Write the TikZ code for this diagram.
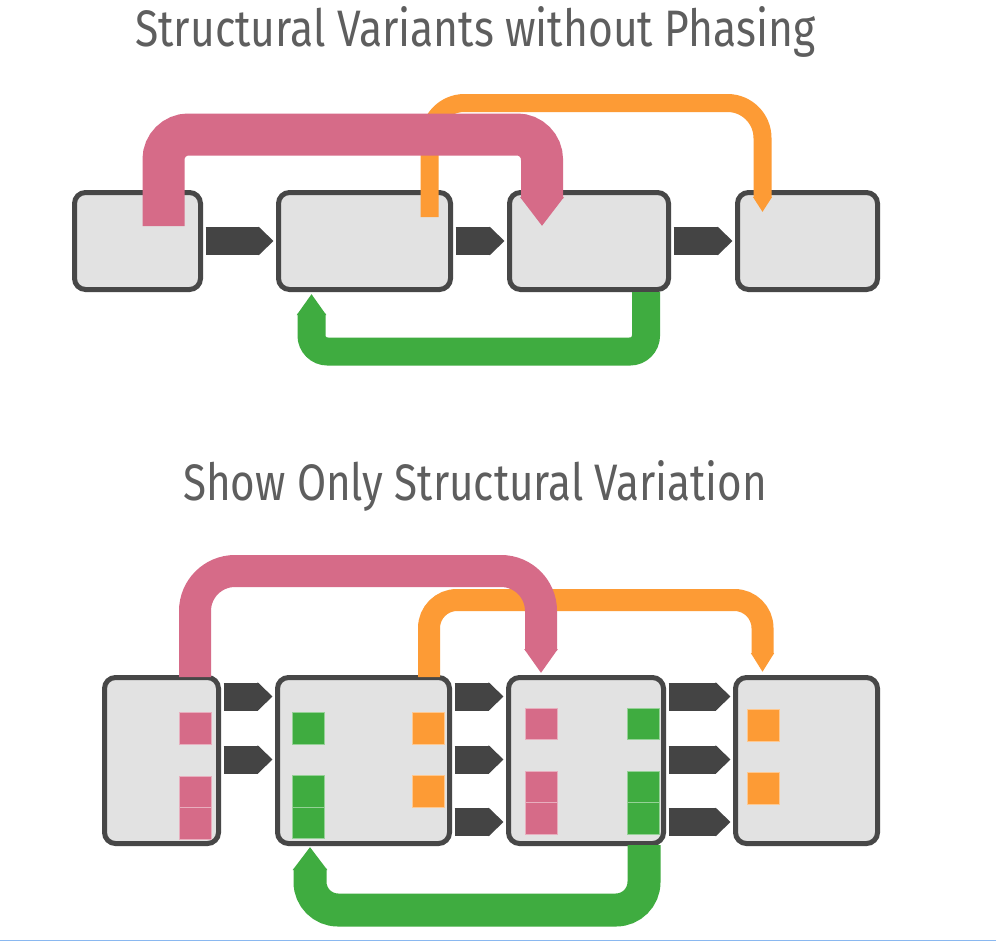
\documentclass[tikz,border=0pt]{standalone}
\usepackage{fontspec}
\newfontfamily\titlefont{Fira Sans}
\usetikzlibrary{arrows.meta,calc}
\definecolor{boxfill}{HTML}{E2E2E2}
\definecolor{boxedge}{HTML}{474747}
\definecolor{chev}{HTML}{444444}
\definecolor{svpink}{HTML}{D66B88}
\definecolor{svorange}{HTML}{FD9B35}
\definecolor{svgreen}{HTML}{3FAC40}
\definecolor{titlegray}{HTML}{5E5E5E}
\definecolor{rulecol}{HTML}{8AB8F0}
\begin{document}
\begin{tikzpicture}[x=1pt,y=-1pt,
  box/.style={draw=boxedge, fill=boxfill, line width=5pt, rounded corners=11pt, inner sep=0pt},
  flow/.style={draw=chev, line width=28pt, -{Triangle[width=0pt 1, length=15pt]}, shorten <=2.5pt, shorten >=2.5pt},
  conn/.style n args={4}{draw=#1, line width=#2, rounded corners=#3, -{Triangle[width=0pt 1, length=#4]}},
  sq/.style={fill=#1, draw=#1!55!white, line width=0.8pt},
  title/.style={anchor=base west, inner sep=0pt, text=titlegray}]
\useasboundingbox (0,0) rectangle (996,942);
\fill[white] (0,0) rectangle (996,942);

% titles
\node[title] (t1) at (135,47) {\resizebox{680pt}{40pt}{\titlefont Structural Variants without Phasing}};
\node[title] (t2) at (183,500) {\resizebox{584pt}{40pt}{\titlefont Show Only Structural Variation}};

% top boxes
\node[box, minimum width=126pt, minimum height=97pt] (b1) at (137.5,241) {};
\node[box, minimum width=172pt, minimum height=97pt] (b2) at (364.5,241) {};
\node[box, minimum width=159pt, minimum height=97pt] (b3) at (589,241) {};
\node[box, minimum width=140pt, minimum height=97pt] (b4) at (807.5,241) {};

\draw[flow] (b1.east) -- (b2.west);
\draw[flow] (b2.east) -- (b3.west);
\draw[flow] (b3.east) -- (b4.west);

% top connectors
\coordinate (to1) at (429.5,217);
\coordinate (to2) at (762.5,212);
\draw[conn={svorange}{18pt}{35pt}{15pt}] (to1) -- (429.5,103) -- (762.5,103) -- (to2);
\coordinate (tp1) at (163.5,226);
\coordinate (tp2) at (542,226);
\draw[conn={svpink}{42pt}{25pt}{29pt}] (tp1) -- (163.5,134.5) -- (542,134.5) -- (tp2);
\coordinate (tg1) at (646,292);
\coordinate (tg2) at (311.5,294);
\draw[conn={svgreen}{28pt}{16pt}{21pt}] (tg1) -- (646,351.5) -- (311.5,351.5) -- (tg2);

% bottom boxes
\node[box, minimum width=114pt, minimum height=166pt] (c1) at (161.5,760.5) {};
\node[box, minimum width=172pt, minimum height=166pt] (c2) at (363.5,760.5) {};
\node[box, minimum width=155pt, minimum height=166pt] (c3) at (586,760.5) {};
\node[box, minimum width=142pt, minimum height=166pt] (c4) at (806.5,760.5) {};

\coordinate (r1) at (0,696.5);
\coordinate (r2) at (0,759.5);
\coordinate (r3) at (0,822);
\draw[flow] (c1.east |- r1) -- (c2.west |- r1);
\draw[flow] (c1.east |- r2) -- (c2.west |- r2);
\draw[flow] (c2.east |- r1) -- (c3.west |- r1);
\draw[flow] (c2.east |- r2) -- (c3.west |- r2);
\draw[flow] (c2.east |- r3) -- (c3.west |- r3);
\draw[flow] (c3.east |- r1) -- (c4.west |- r1);
\draw[flow] (c3.east |- r2) -- (c4.west |- r2);
\draw[flow] (c3.east |- r3) -- (c4.west |- r3);

% squares
\path[sq=svpink] (179,712) rectangle ++(32,32);
\path[sq=svpink] (179,776) rectangle ++(32,31.5);
\path[sq=svpink] (179,807.5) rectangle ++(32,31.5);
\path[sq=svgreen] (292,712) rectangle ++(32,32);
\path[sq=svgreen] (292,775) rectangle ++(32,32);
\path[sq=svgreen] (292,807) rectangle ++(32,31.5);
\path[sq=svorange] (412,712) rectangle ++(32,32);
\path[sq=svorange] (412,775) rectangle ++(32,32);
\path[sq=svpink] (525,708) rectangle ++(32,31.5);
\path[sq=svpink] (525,771) rectangle ++(32,31.5);
\path[sq=svpink] (525,802.5) rectangle ++(32,31.5);
\path[sq=svgreen] (627,708) rectangle ++(32,31.5);
\path[sq=svgreen] (627,771) rectangle ++(32,31.5);
\path[sq=svgreen] (627,802.5) rectangle ++(32,31.5);
\path[sq=svorange] (747,709) rectangle ++(32,32);
\path[sq=svorange] (747,772) rectangle ++(32,32);

% bottom connectors
\coordinate (bo1) at (429,677);
\coordinate (bo2) at (762.5,672);
\draw[conn={svorange}{22pt}{28pt}{19pt}] (bo1) -- (429,600) -- (762.5,600) -- (bo2);
\coordinate (bp1) at (195,677);
\coordinate (bp2) at (541,673);
\draw[conn={svpink}{32pt}{40pt}{24pt}] (bp1) -- (195,571) -- (541,571) -- (bp2);
\coordinate (bg1) at (644,845);
\coordinate (bg2) at (310,847);
\draw[conn={svgreen}{33pt}{28pt}{23pt}] (bg1) -- (644,910) -- (310,910) -- (bg2);

% bottom rule
\draw[rulecol, line width=1.5pt] (0,940.5) -- (996,940.5);
\end{tikzpicture}
\end{document}
